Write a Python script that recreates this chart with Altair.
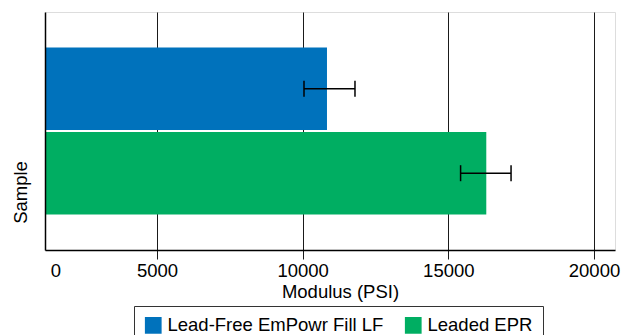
import altair as alt
import pandas as pd

# ---- data ----
samples = ["Lead-Free EmPowr Fill LF", "Leaded EPR"]
modulus = [10835, 16303]
err_low = [10046, 15421]
err_high = [11796, 17153]
bar_colors = ["#0072BC", "#00AE62"]
tick_values = [1516, 5000, 10000, 15000, 20000]
x_domain = [1156, 20721]

df = pd.DataFrame({
    "Sample": samples,
    "Modulus": modulus,
    "low": err_low,
    "high": err_high,
    "base": [0] * len(samples),
})

FS = 18.5
xscale = alt.Scale(domain=x_domain, nice=False, zero=False)
ysort = samples

x_axis = alt.Axis(
    title="Modulus (PSI)",
    values=tick_values,
    format="d",
    labelExpr="datum.value < 2000 ? '0' : datum.label",
    grid=True,
    gridColor="#1a1a1a",
    gridWidth=1,
    gridOpacity={"condition": {"test": "datum.value < 2000", "value": 0}, "value": 1},
    tickOpacity={"condition": {"test": "datum.value < 2000", "value": 0}, "value": 1},
    ticks=True,
    tickSize=9,
    tickColor="#1a1a1a",
    tickWidth=1,
    domainColor="black",
    domainWidth=1.5,
    labelFontSize=FS,
    labelColor="black",
    labelFlush=False,
    labelOverlap=False,
    labelPadding=2,
    titleFontSize=FS,
    titleFontWeight="normal",
    titleColor="black",
    titleX=295,
    titleY=47,
    titleAlign="center",
    titleBaseline="alphabetic",
)

y_axis = alt.Axis(
    title="Sample",
    labels=False,
    ticks=False,
    grid=False,
    domainColor="black",
    domainWidth=1.5,
    titleFontSize=FS,
    titleFontWeight="normal",
    titleColor="black",
    titleAngle=-90,
    titleX=-19,
    titleY=180,
    titleAlign="center",
    titleBaseline="alphabetic",
    zindex=1,
)

yscale = alt.Scale(paddingInner=0.024, paddingOuter=0.422)

bars = alt.Chart(df).mark_bar(clip=True).encode(
    x=alt.X("Modulus:Q", scale=xscale, axis=x_axis),
    x2="base:Q",
    y=alt.Y("Sample:N", sort=ysort, scale=yscale, axis=y_axis),
    color=alt.Color(
        "Sample:N",
        sort=samples,
        scale=alt.Scale(domain=samples, range=bar_colors),
        legend=alt.Legend(
            title=None,
            orient="none",
            legendX=89,
            legendY=294,
            direction="horizontal",
            labelFontSize=FS,
            labelColor="black",
            labelLimit=500,
            symbolType="square",
            symbolSize=280,
            symbolStrokeWidth=0,
            symbolOpacity=1,
            labelOffset=5,
            columnPadding=20,
            strokeColor="#333333",
            padding=10,
        ),
    ),
)

rules = alt.Chart(df).mark_rule(color="black", strokeWidth=1.5).encode(
    x=alt.X("low:Q", scale=xscale),
    x2="high:Q",
    y=alt.Y("Sample:N", sort=ysort),
)
cap_low = alt.Chart(df).mark_tick(color="black", thickness=1.5, size=16, opacity=1).encode(
    x=alt.X("low:Q", scale=xscale),
    y=alt.Y("Sample:N", sort=ysort),
)
cap_high = alt.Chart(df).mark_tick(color="black", thickness=1.5, size=16, opacity=1).encode(
    x=alt.X("high:Q", scale=xscale),
    y=alt.Y("Sample:N", sort=ysort),
)

chart = alt.layer(bars, rules, cap_low, cap_high).properties(
    width=570,
    height=238,
    autosize=alt.AutoSizeParams(type="none"),
    padding={"left": 37, "top": 4, "right": 6, "bottom": 85},
    background="white",
).configure_view(stroke=None).configure(font="Liberation Sans")

chart.save("out.html", embed_options={"renderer": "svg", "actions": False})
